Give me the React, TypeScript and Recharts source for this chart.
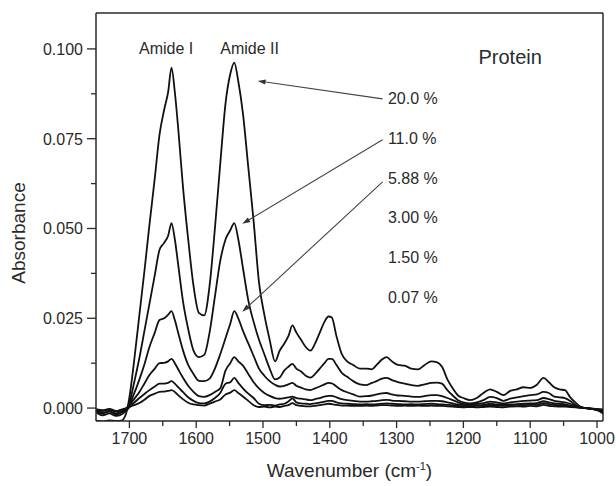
import React from 'react';
import { LineChart, Line, XAxis, YAxis, ReferenceLine, ReferenceDot, Label } from 'recharts';

// wavenumber grid (cm-1), high -> low
const wavenumbers = [
  1750, 1740, 1730, 1720, 1712, 1705, 1700, 1693, 1685, 1677,
  1670, 1662, 1655, 1648, 1642, 1637, 1632, 1627, 1620, 1612,
  1604, 1596, 1588, 1580, 1572, 1564, 1556, 1549, 1543, 1537,
  1530, 1522, 1514, 1506, 1498, 1490, 1482, 1475, 1468, 1462,
  1456, 1450, 1443, 1436, 1429, 1422, 1415, 1408, 1402, 1397,
  1390, 1382, 1374, 1365, 1355, 1345, 1337, 1330, 1322, 1315,
  1307, 1298, 1288, 1278, 1268, 1258, 1248, 1240, 1232, 1224,
  1216, 1208, 1200, 1190, 1180, 1170, 1160, 1150, 1140, 1130,
  1120, 1110, 1100, 1090, 1080, 1072, 1064, 1056, 1048, 1040,
  1032, 1024, 1016, 1008, 1000, 991,
];

const conc20 = [
  -0.0035, -0.0037, -0.0034, -0.0036, -0.0035, -0.0015, 0.003, 0.013, 0.026, 0.039,
  0.051, 0.064, 0.076, 0.083, 0.088, 0.0948, 0.088, 0.078, 0.062, 0.047,
  0.034, 0.0265, 0.0258, 0.034, 0.05, 0.068, 0.085, 0.093, 0.0962, 0.091,
  0.082, 0.067, 0.052, 0.035, 0.026, 0.019, 0.013, 0.016, 0.018, 0.02,
  0.023, 0.021, 0.019, 0.017, 0.016, 0.018, 0.021, 0.024, 0.0255, 0.0252,
  0.02, 0.015, 0.013, 0.012, 0.011, 0.011, 0.0108, 0.012, 0.0135, 0.0142,
  0.013, 0.012, 0.0118, 0.011, 0.0108, 0.012, 0.013, 0.0128, 0.0115, 0.008,
  0.0055, 0.0035, 0.0028, 0.0022, 0.0028, 0.0042, 0.0052, 0.0045, 0.0036, 0.0048,
  0.0052, 0.0058, 0.0056, 0.0065, 0.0084, 0.0072, 0.0058, 0.0052, 0.005, 0.003,
  0.0015, 0.0003, -0.0001, -0.0002, -0.0005, -0.0015,
];

const conc11 = [
  -0.001, -0.0015, -0.0008, -0.0018, -0.0012, -0.0005, 0.0015, 0.007, 0.014, 0.022,
  0.029, 0.037, 0.044, 0.046, 0.048, 0.0515, 0.047, 0.04, 0.03, 0.022,
  0.016, 0.0142, 0.0148, 0.021, 0.031, 0.041, 0.047, 0.0495, 0.0515, 0.047,
  0.039, 0.03, 0.024, 0.019, 0.015, 0.011, 0.008, 0.0085, 0.0105, 0.0115,
  0.0123, 0.011, 0.0102, 0.009, 0.0085, 0.0095, 0.011, 0.0125, 0.0137, 0.0137,
  0.012, 0.0098, 0.0087, 0.0075, 0.0066, 0.0064, 0.007, 0.0075, 0.0082, 0.0084,
  0.0078, 0.0072, 0.0068, 0.0064, 0.0062, 0.0066, 0.007, 0.0071, 0.0068, 0.005,
  0.0035, 0.0022, 0.0016, 0.0013, 0.0016, 0.0022, 0.0031, 0.0028, 0.002, 0.0026,
  0.003, 0.0033, 0.0036, 0.0038, 0.0045, 0.0042, 0.0032, 0.003, 0.0028, 0.002,
  0.0008, 0.0002, 0, -0.0002, -0.0006, -0.0012,
];

const conc588 = [
  -0.0008, -0.0012, -0.001, -0.0015, -0.0008, -0.0004, 0.001, 0.004, 0.008, 0.0125,
  0.017, 0.021, 0.0245, 0.025, 0.026, 0.027, 0.0245, 0.021, 0.0162, 0.012,
  0.0095, 0.0076, 0.0075, 0.0082, 0.011, 0.015, 0.0195, 0.0235, 0.027, 0.025,
  0.0215, 0.018, 0.0145, 0.011, 0.009, 0.0075, 0.0065, 0.006, 0.0062, 0.0066,
  0.007, 0.0062, 0.0057, 0.0052, 0.005, 0.0055, 0.006, 0.0066, 0.007, 0.0069,
  0.006, 0.005, 0.0044, 0.0038, 0.0032, 0.0033, 0.0035, 0.0038, 0.0041, 0.0042,
  0.0038, 0.0035, 0.0034, 0.0032, 0.0031, 0.0033, 0.0036, 0.0036, 0.0033, 0.0028,
  0.0022, 0.0016, 0.0012, 0.001, 0.0012, 0.0014, 0.0018, 0.0016, 0.0013, 0.0016,
  0.0018, 0.002, 0.0021, 0.0022, 0.0028, 0.0025, 0.002, 0.0018, 0.0016, 0.0012,
  0.0006, 0.0002, 0, -0.0002, -0.0005, -0.001,
];

const conc3 = [
  -0.0005, -0.0008, -0.0004, -0.001, -0.0006, -0.0002, 0.0008, 0.0025, 0.0045, 0.007,
  0.0092, 0.011, 0.0125, 0.0126, 0.013, 0.0137, 0.0125, 0.0108, 0.0085, 0.0062,
  0.0045, 0.0033, 0.0031, 0.0036, 0.0045, 0.0055, 0.0105, 0.0125, 0.0142, 0.013,
  0.0118, 0.0095, 0.0072, 0.0055, 0.0042, 0.0034, 0.0028, 0.0026, 0.0028, 0.003,
  0.0032, 0.0028, 0.0026, 0.0024, 0.0022, 0.0025, 0.0028, 0.0032, 0.0034, 0.0034,
  0.003, 0.0025, 0.0022, 0.002, 0.0018, 0.0018, 0.0019, 0.002, 0.0022, 0.0023,
  0.0021, 0.002, 0.0019, 0.0018, 0.0018, 0.0019, 0.002, 0.002, 0.0019, 0.0016,
  0.0013, 0.001, 0.0008, 0.0007, 0.0008, 0.0009, 0.0012, 0.001, 0.0009, 0.001,
  0.0011, 0.0012, 0.0013, 0.0014, 0.0019, 0.0016, 0.0013, 0.0012, 0.001, 0.0007,
  0.0004, 0.0001, 0, -0.0002, -0.0004, -0.0008,
];

const conc15 = [
  -0.0003, -0.0006, -0.0002, -0.0008, -0.0004, 0, 0.0006, 0.0015, 0.0028, 0.004,
  0.005, 0.006, 0.0068, 0.0068, 0.007, 0.0075, 0.0068, 0.0058, 0.0045, 0.003,
  0.002, 0.0014, 0.0013, 0.0018, 0.0028, 0.0042, 0.0068, 0.0072, 0.0084, 0.007,
  0.0055, 0.004, 0.0028, 0.0012, 0.0008, 0.0009, 0.0007, 0.001, 0.0012, 0.0018,
  0.0027, 0.0016, 0.0013, 0.0012, 0.0011, 0.0013, 0.0015, 0.0018, 0.002, 0.002,
  0.0016, 0.0013, 0.0012, 0.0011, 0.001, 0.0011, 0.001, 0.0011, 0.0012, 0.0013,
  0.0012, 0.0011, 0.001, 0.0011, 0.001, 0.0011, 0.0012, 0.0011, 0.001, 0.0009,
  0.0008, 0.0006, 0.0005, 0.0005, 0.0006, 0.0006, 0.0008, 0.0007, 0.0006, 0.0008,
  0.0009, 0.0008, 0.001, 0.0009, 0.0014, 0.0011, 0.0009, 0.0008, 0.0007, 0.0005,
  0.0003, 0.0001, 0, -0.0002, -0.0003, -0.0006,
];

const conc007 = [
  -0.0012, -0.002, -0.0015, -0.0022, -0.0018, -0.0008, 0.0002, 0.0008, 0.0014, 0.0024,
  0.0034, 0.004, 0.0045, 0.0046, 0.0048, 0.005, 0.0045, 0.0036, 0.0025, 0.0015,
  0.001, 0.0008, 0.0007, 0.0012, 0.0018, 0.0024, 0.0038, 0.0043, 0.005, 0.0042,
  0.0032, 0.002, 0.0008, 0.0003, 0.0004, 0.0002, 0.0004, 0.0003, 0.0006, 0.0008,
  0.0014, 0.0008, 0.0006, 0.0005, 0.0005, 0.0006, 0.0008, 0.001, 0.0012, 0.0011,
  0.0009, 0.0007, 0.0007, 0.0006, 0.0006, 0.0007, 0.0006, 0.0007, 0.0008, 0.0008,
  0.0007, 0.0006, 0.0007, 0.0006, 0.0007, 0.0006, 0.0007, 0.0006, 0.0006, 0.0005,
  0.0004, 0.0003, 0.0002, 0.0003, 0.0002, 0.0003, 0.0004, 0.0003, 0.0002, 0.0004,
  0.0005, 0.0004, 0.0006, 0.0005, 0.0009, 0.0006, 0.0005, 0.0004, 0.0004, 0.0003,
  0.0002, 0.0001, 0, -0.0001, -0.0002, -0.0004,
];

const seriesKeys = ['c20', 'c11', 'c588', 'c3', 'c15', 'c007'];
const seriesValues = [conc20, conc11, conc588, conc3, conc15, conc007];

const xTicks = [1700, 1650, 1600, 1550, 1500, 1450, 1400, 1350, 1300, 1250, 1200, 1150, 1100, 1050, 1000];
const yTicks = [0, 0.0125, 0.025, 0.0375, 0.05, 0.0625, 0.075, 0.0875, 0.1];
const X_MIN = 991;
const X_MAX = 1750;
const Y_MIN = -0.0036;
const Y_MAX = 0.11;

// concentration labels: text, anchor wavenumber, anchor absorbance (baseline)
const concLabels = ['20.0 %', '11.0 %', '5.88 %', '3.00 %', '1.50 %', '0.07 %'];
const concLabelX = 1313;
const concLabelY = [0.0847, 0.0736, 0.0624, 0.0516, 0.0404, 0.0293];

// arrows from label to curve
const arrows = [
  { from: [1321, 0.0861], to: [1508, 0.0911] },
  { from: [1321, 0.0747], to: [1531, 0.0513] },
  { from: [1321, 0.063], to: [1531, 0.0268] },
];

const FONT = '"Liberation Sans", Arial, Helvetica, sans-serif';
const INK = '#2a2a2a';

const data = wavenumbers.map((w, i) => {
  const row: { [key: string]: number } = { w };
  seriesKeys.forEach((k, j) => {
    row[k] = seriesValues[j][i];
  });
  return row;
});

const XTick = (props: any) => {
  const { x, y, payload } = props;
  const major = payload.value % 100 === 0;
  return (
    <g>
      <line x1={x} y1={y} x2={x} y2={y + (major ? 7 : 5)} stroke={INK} strokeWidth={1.3} />
      {major && (
        <text x={x} y={y + 23} textAnchor="middle" fontSize={16} fontFamily={FONT} fill={INK}>
          {payload.value}
        </text>
      )}
    </g>
  );
};

const YTick = (props: any) => {
  const { x, y, payload } = props;
  const r = payload.value / 0.025;
  const major = Math.abs(r - Math.round(r)) < 1e-6;
  return (
    <g>
      <line x1={x - (major ? 9 : 5)} y1={y} x2={x} y2={y} stroke={INK} strokeWidth={1.3} />
      {major && (
        <text x={x - 13} y={y + 6} textAnchor="end" fontSize={16} fontFamily={FONT} fill={INK}>
          {payload.value.toFixed(3)}
        </text>
      )}
    </g>
  );
};

const XTitle = (props: any) => {
  const { viewBox } = props;
  const cx = viewBox.x + viewBox.width / 2;
  return (
    <text x={cx} y={viewBox.y + 56} textAnchor="middle" fontSize={19} fontFamily={FONT} fill={INK}>
      Wavenumber (cm
      <tspan dy={-7} fontSize={11}>-1</tspan>
      <tspan dy={7}>)</tspan>
    </text>
  );
};

const YTitle = (props: any) => {
  const { viewBox } = props;
  const x = viewBox.x + 25;
  const y = viewBox.y + 220;
  return (
    <text x={x} y={y} transform={`rotate(-90, ${x}, ${y})`} textAnchor="middle" fontSize={19} fontFamily={FONT} fill={INK}>
      Absorbance
    </text>
  );
};

const textShape = (value: string, size: number, anchor: 'start' | 'middle' | 'end') => (p: any) => (
  <text x={p.cx} y={p.cy} textAnchor={anchor} fontSize={size} fontFamily={FONT} fill={INK}>
    {value}
  </text>
);

const arrowShape = (p: any) => {
  const { x1, y1, x2, y2 } = p;
  const ang = Math.atan2(y2 - y1, x2 - x1);
  const len = 8;
  const half = 2.6;
  const bx = x2 - len * Math.cos(ang);
  const by = y2 - len * Math.sin(ang);
  const px = -Math.sin(ang) * half;
  const py = Math.cos(ang) * half;
  return (
    <g>
      <line x1={x1} y1={y1} x2={bx} y2={by} stroke="#444" strokeWidth={1.1} />
      <polygon points={`${x2},${y2} ${bx + px},${by + py} ${bx - px},${by - py}`} fill="#333" />
    </g>
  );
};

export default function App() {
  return (
    <div style={{ position: 'absolute', left: 0, top: 0, width: 616, height: 486, background: '#fff' }}>
      <LineChart width={616} height={486} data={data} margin={{ top: 13, right: 13, bottom: 0, left: 0 }}>
        <XAxis
          dataKey="w"
          type="number"
          domain={[X_MIN, X_MAX]}
          reversed
          allowDataOverflow
          ticks={xTicks}
          interval={0}
          tickSize={0}
          tickMargin={0}
          tick={<XTick />}
          tickLine={false}
          axisLine={{ stroke: INK, strokeWidth: 1.5 }}
          height={65}
        >
          <Label content={<XTitle />} />
        </XAxis>
        <YAxis
          type="number"
          domain={[Y_MIN, Y_MAX]}
          allowDataOverflow
          ticks={yTicks}
          interval={0}
          tickSize={0}
          tickMargin={0}
          tick={<YTick />}
          tickLine={false}
          axisLine={{ stroke: INK, strokeWidth: 1.5 }}
          width={96}
        >
          <Label content={<YTitle />} />
        </YAxis>
        <ReferenceLine x={X_MIN} stroke={INK} strokeWidth={1.5} ifOverflow="visible" />
        <ReferenceLine y={Y_MAX} stroke={INK} strokeWidth={1.5} ifOverflow="visible" />
        {seriesKeys.map((k) => (
          <Line
            key={k}
            type="monotone"
            dataKey={k}
            stroke="#111"
            strokeWidth={1.8}
            dot={false}
            isAnimationActive={false}
          />
        ))}
        {arrows.map((a, i) => (
          <ReferenceLine
            key={'arrow' + i}
            segment={[
              { x: a.from[0], y: a.from[1] },
              { x: a.to[0], y: a.to[1] },
            ]}
            shape={arrowShape}
            ifOverflow="visible"
          />
        ))}
        <ReferenceDot x={1645} y={0.0987} r={0} shape={textShape('Amide I', 16, 'middle')} ifOverflow="visible" />
        <ReferenceDot x={1520} y={0.0987} r={0} shape={textShape('Amide II', 16, 'middle')} ifOverflow="visible" />
        <ReferenceDot x={1130} y={0.0959} r={0} shape={textShape('Protein', 20, 'middle')} ifOverflow="visible" />
        {concLabels.map((t, i) => (
          <ReferenceDot
            key={t}
            x={concLabelX}
            y={concLabelY[i]}
            r={0}
            shape={textShape(t, 16, 'start')}
            ifOverflow="visible"
          />
        ))}
      </LineChart>
    </div>
  );
}
